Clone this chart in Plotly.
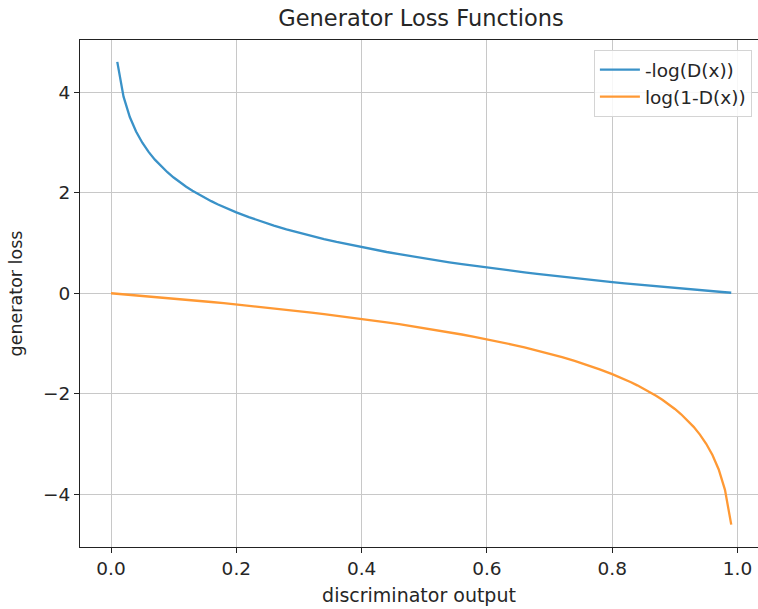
import plotly.graph_objects as go

# -log(D(x))
x_blue = [0.01, 0.02, 0.03, 0.04, 0.05, 0.06, 0.07, 0.08, 0.09, 0.10,
          0.11, 0.12, 0.13, 0.14, 0.15, 0.16, 0.17, 0.18, 0.19, 0.20,
          0.22, 0.24, 0.26, 0.28, 0.30, 0.32, 0.34, 0.36, 0.38, 0.40,
          0.42, 0.44, 0.46, 0.48, 0.50, 0.52, 0.54, 0.56, 0.58, 0.60,
          0.62, 0.64, 0.66, 0.68, 0.70, 0.72, 0.74, 0.76, 0.78, 0.80,
          0.82, 0.84, 0.86, 0.88, 0.90, 0.92, 0.94, 0.96, 0.98, 0.99]
y_blue = [4.605, 3.912, 3.507, 3.219, 2.996, 2.813, 2.659, 2.526, 2.408, 2.303,
          2.207, 2.120, 2.040, 1.966, 1.897, 1.833, 1.772, 1.715, 1.661, 1.609,
          1.514, 1.427, 1.347, 1.273, 1.204, 1.139, 1.079, 1.022, 0.968, 0.916,
          0.868, 0.821, 0.777, 0.734, 0.693, 0.654, 0.616, 0.580, 0.545, 0.511,
          0.478, 0.446, 0.416, 0.386, 0.357, 0.329, 0.301, 0.274, 0.248, 0.223,
          0.198, 0.174, 0.151, 0.128, 0.105, 0.083, 0.062, 0.041, 0.020, 0.010]

# log(1-D(x))
x_orange = [0.00, 0.02, 0.04, 0.06, 0.08, 0.10, 0.12, 0.14, 0.16, 0.18,
            0.20, 0.22, 0.24, 0.26, 0.28, 0.30, 0.32, 0.34, 0.36, 0.38,
            0.40, 0.42, 0.44, 0.46, 0.48, 0.50, 0.52, 0.54, 0.56, 0.58,
            0.60, 0.62, 0.64, 0.66, 0.68, 0.70, 0.72, 0.74, 0.76, 0.78,
            0.80, 0.81, 0.82, 0.83, 0.84, 0.85, 0.86, 0.87, 0.88, 0.89,
            0.90, 0.91, 0.92, 0.93, 0.94, 0.95, 0.96, 0.97, 0.98, 0.99]
y_orange = [0.000, -0.020, -0.041, -0.062, -0.083, -0.105, -0.128, -0.151, -0.174, -0.198,
            -0.223, -0.248, -0.274, -0.301, -0.329, -0.357, -0.386, -0.416, -0.446, -0.478,
            -0.511, -0.545, -0.580, -0.616, -0.654, -0.693, -0.734, -0.777, -0.821, -0.868,
            -0.916, -0.968, -1.022, -1.079, -1.139, -1.204, -1.273, -1.347, -1.427, -1.514,
            -1.609, -1.661, -1.715, -1.772, -1.833, -1.897, -1.966, -2.040, -2.120, -2.207,
            -2.303, -2.408, -2.526, -2.659, -2.813, -2.996, -3.219, -3.507, -3.912, -4.605]

x_ticks = [0.0, 0.2, 0.4, 0.6, 0.8, 1.0]
y_ticks = [-4, -2, 0, 2, 4]

FONT = "DejaVu Sans"
TXT = "#262626"

fig = go.Figure()
fig.add_trace(go.Scatter(x=x_blue, y=y_blue, mode="lines", name="-log(D(x))",
                         line=dict(color="rgb(58,146,200)", width=2.3)))
fig.add_trace(go.Scatter(x=x_orange, y=y_orange, mode="lines", name="log(1-D(x))",
                         line=dict(color="rgb(255,153,52)", width=2.3)))

axis_common = dict(
    showgrid=True, gridcolor="#c8c8c8", gridwidth=1,
    zeroline=False, showline=True, linecolor="#222", linewidth=1.2,
    ticks="outside", ticklen=5, tickwidth=1.2, tickcolor="#222",
    tickfont=dict(family=FONT, size=18.5, color=TXT),
    automargin=False,
)

fig.update_layout(
    width=758, height=609,
    margin=dict(l=80, r=0, t=40, b=62, autoexpand=False),
    paper_bgcolor="white", plot_bgcolor="white",
    title=dict(text="Generator Loss Functions", x=421 / 758, xref="container",
               xanchor="center", y=1 - 18 / 609, yref="container", yanchor="middle",
               font=dict(family=FONT, size=22.5, color=TXT)),
    font=dict(family=FONT, color=TXT),
    xaxis=dict(range=[-0.0495, 1.0327], tickvals=x_ticks, tickformat=".1f",
               mirror=True,
               title=dict(text="discriminator output", standoff=10,
                          font=dict(family=FONT, size=19, color=TXT)),
               **axis_common),
    yaxis=dict(range=[-5.05, 5.04], tickvals=y_ticks,
               title=dict(text="generator loss", standoff=15,
                          font=dict(family=FONT, size=17.5, color=TXT)),
               **axis_common),
    legend=dict(x=0.991, y=0.98, xanchor="right", yanchor="top",
                bgcolor="rgba(255,255,255,0.85)", bordercolor="#d4d4d4",
                borderwidth=1, itemwidth=40,
                font=dict(family=FONT, size=18.5, color=TXT)),
    showlegend=True,
)

fig.write_html("out.html", config={"displayModeBar": False},
               post_script="document.body.style.margin='0';document.body.style.overflow='hidden';")
